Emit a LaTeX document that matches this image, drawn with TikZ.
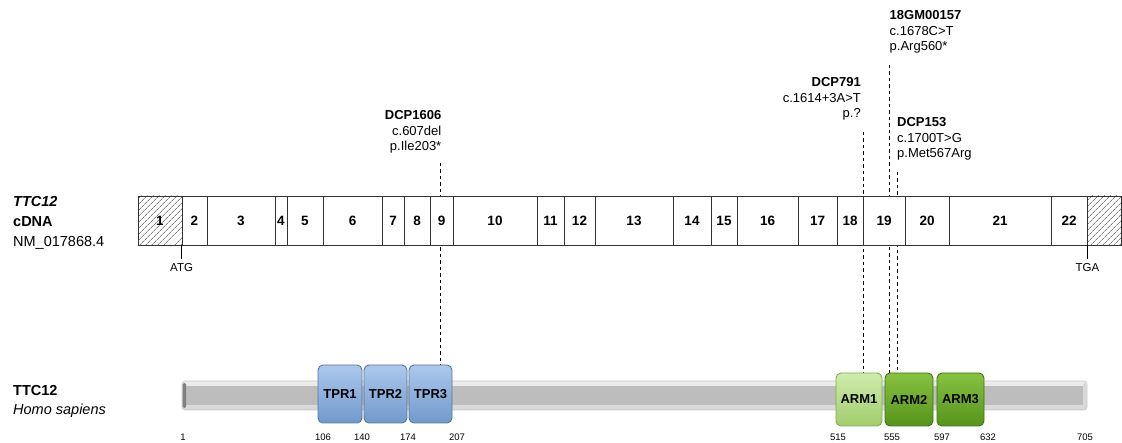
\documentclass[tikz,border=0pt]{standalone}
\usepackage{fontspec}
\setmainfont{Liberation Sans}
\usetikzlibrary{patterns.meta,backgrounds}
\definecolor{tprtop}{HTML}{ADC8EC}
\definecolor{tprbot}{HTML}{7199CC}
\definecolor{tprline}{HTML}{55779F}
\definecolor{armAtop}{HTML}{D0EBAC}
\definecolor{armAbot}{HTML}{A0CD6C}
\definecolor{armAline}{HTML}{80AC52}
\definecolor{armBtop}{HTML}{86C23E}
\definecolor{armBbot}{HTML}{56941C}
\definecolor{armBline}{HTML}{447214}
\begin{document}
\begin{tikzpicture}[x=1pt,y=-1pt,
  exon/.style={draw=black!80, line width=0.8pt, fill=white, minimum height=49pt, inner sep=0pt,
    font=\fontsize{13.5}{15}\selectfont\bfseries},
  utr/.style={exon, fill=none, pattern={Lines[angle=45,distance=4pt,line width=0.5pt]}, pattern color=black!75},
  mutlbl/.style={inner sep=0pt, font=\fontsize{13}{15.5}\selectfont},
  mut/.style={dashed, dash pattern=on 3.5pt off 3pt, line width=0.85pt, black},
  sidelbl/.style={inner sep=0pt, anchor=north west, align=left, font=\fontsize{14.5}{20}\selectfont},
  tick/.style={line width=1pt, black},
  small/.style={inner sep=0pt, font=\fontsize{9.5}{11}\selectfont},
  dombox/.style={draw, line width=0.9pt, rounded corners=5pt, inner sep=0pt,
    font=\fontsize{13}{14}\selectfont\bfseries},
  tpr/.style={dombox, draw=tprline, top color=tprtop, bottom color=tprbot, minimum height=58pt},
  armA/.style={dombox, draw=armAline, top color=armAtop, bottom color=armAbot, minimum height=53pt},
  armB/.style={dombox, draw=armBline, top color=armBtop, bottom color=armBbot, minimum height=53pt},
]
\useasboundingbox (0,0) rectangle (1122,443);

% ---------- left labels ----------
\node[sidelbl] (cdnalbl) at (13,196.5) {\textbf{\textit{TTC12}}\\\textbf{cDNA}\\NM\_017868.4};
\node[sidelbl, font=\fontsize{14.5}{19}\selectfont] (protlbl) at (13,384.8) {\textbf{TTC12}\\\textit{Homo sapiens}};

% ---------- cDNA exons ----------
\node[utr, minimum width=44pt] (e1) at (160,220.5) {1};
\foreach \a/\b/\n in {182/207/2,207/275/3,275/287/4,287/323/5,323/382/6,382/404/7,404/430/8,
  430/453/9,453/537/10,537/564/11,564/595/12,595/673/13,673/711/14,711/737/15,737/798/16,
  798/837/17,837/863/18,863/905/19,905/949/20,949/1051/21,1051/1087/22}{
  \node[exon, minimum width={(\b-\a)*1pt}] (e\n) at ({(\a+\b)/2},220.5) {\n};
}
\node[utr, minimum width=34pt] (e23) at (1104,220.5) {};

% ATG / TGA
\coordinate (atg) at (e2.south west);
\coordinate (tga) at (e22.south east);
\draw[tick] (atg) -- ++(0,14) coordinate (atgend);
\draw[tick] (tga) -- ++(0,14) coordinate (tgaend);
\node[small, anchor=north, font=\fontsize{11.5}{12}\selectfont] (atglbl) at ([yshift=-3.8pt]atgend) {ATG};
\node[small, anchor=north, font=\fontsize{11.5}{12}\selectfont] (tgalbl) at ([yshift=-3.8pt]tgaend) {TGA};

% ---------- protein ----------
\node[draw=black!22, line width=0.6pt, rounded corners=3pt, top color=black!7, bottom color=black!16,
  minimum width=905pt, minimum height=29pt, inner sep=0pt] (prot) at (634.5,395.5) {};
\fill[black!26] (185,386) rectangle (1085,405);
\fill[black!50, rounded corners=1.5pt] (182.5,383) rectangle (186,408);
\fill[black!15, rounded corners=1.5pt] (1083,383) rectangle (1086.5,408);

\node[tpr, minimum width=44pt] (tpr1) at (340,394) {TPR1};
\node[tpr, minimum width=43pt] (tpr2) at (385.5,394) {TPR2};
\node[tpr, minimum width=43pt] (tpr3) at (430.5,394) {TPR3};
\node[armA, minimum width=46pt] (arm1) at (859,399.5) {ARM1};
\node[armB, minimum width=48pt] (arm2) at (909,399.5) {ARM2};
\node[armB, minimum width=47pt] (arm3) at (960.5,399.5) {ARM3};

% positions
\foreach \x/\t in {183/1,323/106,362/140,408/174,457/207,838/515,892/555,942/597,988/632,1085/705}{
  \node[small] (pos\t) at (\x,437) {\t};
}

% ---------- mutation labels ----------
\node[mutlbl, anchor=north east, align=right] (m1) at (441.5,110.5)
  {\textbf{DCP1606}\\c.607del\\p.Ile203*};
\node[mutlbl, anchor=north east, align=right] (m2) at (861,77.3)
  {\textbf{DCP791}\\c.1614+3A>T\\p.?};
\node[mutlbl, anchor=north west, align=left] (m3) at (889.5,10.3)
  {\textbf{18GM00157}\\c.1678C>T\\p.Arg560*};
\node[mutlbl, anchor=north west, align=left] (m4) at (897,117.3)
  {\textbf{DCP153}\\c.1700T>G\\p.Met567Arg};

\coordinate (d1) at (440,163);
\coordinate (d2) at (863,132);
\coordinate (d3) at (889,65);
\coordinate (d4) at (897,172);
\begin{pgfonlayer}{background}
  \draw[mut] (d1) -- (d1 |- tpr3.north);
  \draw[mut] (d2) -- (d2 |- arm1.north);
  \draw[mut] (d3) -- (d3 |- arm2.north);
  \draw[mut] (d4) -- (d4 |- arm2.north);
\end{pgfonlayer}
\end{tikzpicture}
\end{document}
